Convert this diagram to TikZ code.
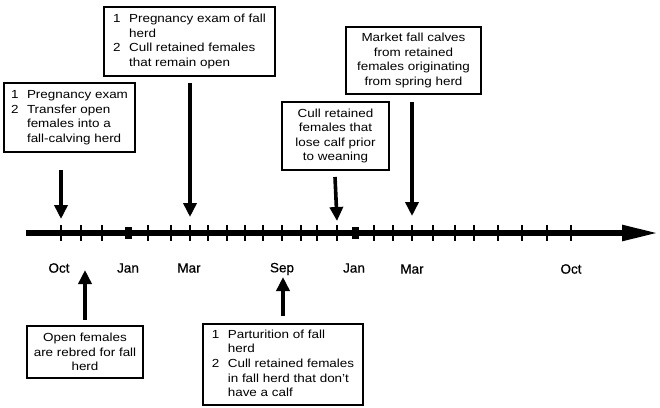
\documentclass[tikz,border=0pt]{standalone}
\usepackage{fontspec}
\setmainfont{Liberation Sans}[FakeStretch=1.15]
\newfontfamily\lblfont{Liberation Sans}[FakeBold=0.6]
\usetikzlibrary{arrows.meta}
\begin{document}
\begin{tikzpicture}[x=1pt,y=-1pt,
  evbox/.style={draw,line width=1.4pt,inner sep=0pt,
    font=\fontsize{11.7}{14.6}\selectfont},
  cbox/.style={evbox,align=center},
  evarrow/.style={line width=3.6pt,-{Triangle[length=14pt,width=13pt]}},
  axisline/.style={line width=5.5pt,-{Triangle[length=36pt,width=15pt]}},
  tickmark/.style={line width=2.4pt},
  bigtick/.style={fill=black},
  monthlbl/.style={font=\lblfont\fontsize{13.5}{15}\selectfont}]
\useasboundingbox (0,0) rectangle (660,407);
\newcommand\numlist[1]{\begin{tabular}{@{}p{16pt}@{}l@{}}#1\end{tabular}}

% boxes
\node[evbox,minimum width=131pt,minimum height=69pt] (A) at (69.5,117.5)
  {\numlist{1 & Pregnancy exam\\ 2 & Transfer open\\ & females into a\\ & fall-calving herd}};
\node[evbox,minimum width=171pt,minimum height=69pt] (B) at (189.5,41.5)
  {\numlist{1 & Pregnancy exam of fall\\ & herd\\ 2 & Cull retained females\\ & that remain open}};
\node[cbox,minimum width=107pt,minimum height=68pt] (C) at (335.5,136)
  {Cull retained\\ females that\\ lose calf prior\\ to weaning};
\node[cbox,minimum width=135pt,minimum height=67pt] (D) at (413.5,60.5)
  {Market fall calves\\ from retained\\ females originating\\ from spring herd};
\node[cbox,minimum width=116pt,minimum height=52pt] (E) at (85,352)
  {Open females\\ are rebred for fall\\ herd};
\node[evbox,minimum width=160pt,minimum height=81pt] (F) at (283,364.5)
  {\numlist{1 & Parturition of fall\\ & herd\\ 2 & Cull retained females\\ & in fall herd that don't\\ & have a calf}};

% time axis
\coordinate (axL) at (26,233);
\coordinate (axR) at (658,233);
\draw[axisline] (axL) -- (axR);
\foreach \x in {61,81,102,148,171,190,208,227,245,263,282,301,317,337,374,393,412,433,455,474,498,522,547,571}
  \draw[tickmark] (\x,225) -- (\x,241);
\foreach \x in {128,355}
  \fill[bigtick] (\x-3.5,227) rectangle (\x+3.5,239);

% month labels
\node[monthlbl] (m1) at (59,268) {Oct};
\node[monthlbl] (m2) at (128,268) {Jan};
\node[monthlbl] (m3) at (189,268) {Mar};
\node[monthlbl] (m4) at (282,269) {Sep};
\node[monthlbl] (m5) at (354,268) {Jan};
\node[monthlbl] (m6) at (412,269) {Mar};
\node[monthlbl] (m7) at (571,269) {Oct};

% arrows
\coordinate (a1) at (61,170);  \coordinate (a2) at (61,219);
\coordinate (b1) at (190,83);  \coordinate (b2) at (190,217);
\coordinate (c1) at (335,177); \coordinate (c2) at (337,221);
\coordinate (d1) at (412,102); \coordinate (d2) at (412,216);
\coordinate (e1) at (85,320);  \coordinate (e2) at (85,270);
\coordinate (f1) at (283,316); \coordinate (f2) at (283,277);
\draw[evarrow] (a1) -- (a2);
\draw[evarrow] (b1) -- (b2);
\draw[evarrow] (c1) -- (c2);
\draw[evarrow] (d1) -- (d2);
\draw[evarrow] (e1) -- (e2);
\draw[evarrow] (f1) -- (f2);
\end{tikzpicture}
\end{document}
